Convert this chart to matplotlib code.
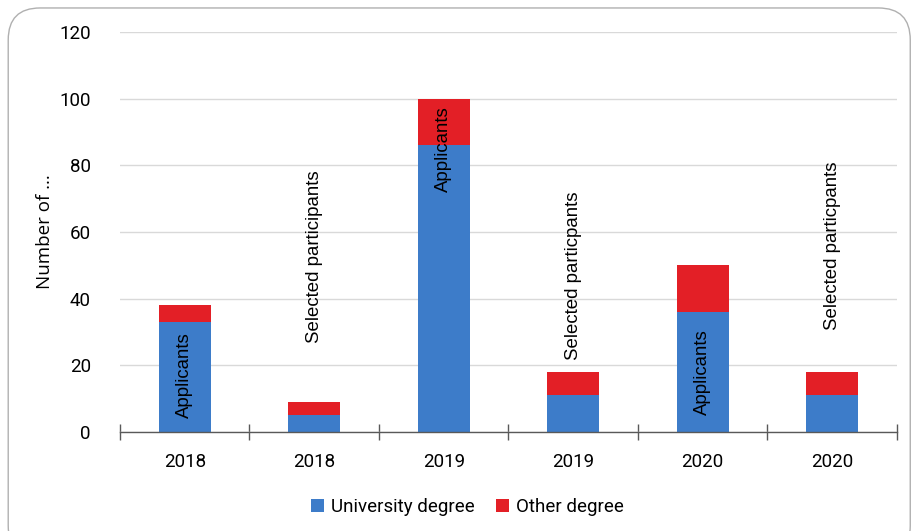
import numpy as np
import matplotlib
matplotlib.use("Agg")
import matplotlib.pyplot as plt
from matplotlib.patches import FancyBboxPatch

years = ["2018", "2018", "2019", "2019", "2020", "2020"]
university = [33, 5, 86, 11, 36, 11]
other = [5, 4, 14, 7, 14, 7]
bar_labels = ["Applicants", "Selected participants", "Applicants",
              "Selected particpants", "Applicants", "Selected particpants"]
label_y = [17, 52.5, 85, 47, 18, 56]

BLUE = "#3d7cc9"
RED = "#e31f26"

fig = plt.figure(figsize=(9.13, 5.31), dpi=100)
frame = FancyBboxPatch((0.009, -0.05), 0.988, 1.035,
                       boxstyle="round,pad=0,rounding_size=0.035",
                       transform=fig.transFigure, fc="white",
                       ec="#b0b0b0", lw=1.0, mutation_aspect=913 / 531, zorder=-1)
fig.patches.append(frame)
ax = fig.add_axes([0.1314, 0.1864, 0.851, 0.7533])
ax.set_facecolor("none")
ax.set_zorder(2)

x = np.arange(len(years))
ax.bar(x, university, 0.4, color=BLUE, label="University degree", zorder=3)
ax.bar(x, other, 0.4, bottom=university, color=RED, label="Other degree", zorder=3)

for xi, lab, yy in zip(x, bar_labels, label_y):
    ax.text(xi, yy, lab, rotation=90, ha="center", va="center",
            fontsize=13.4, family="Liberation Sans", color="black", zorder=4)

ax.set_xlim(-0.5, len(years) - 0.5)
ax.set_ylim(0, 120)
ax.set_yticks(range(0, 121, 20))
ax.yaxis.grid(True, color="#d9d9d9", lw=1.0, zorder=0)
ax.tick_params(axis="y", length=0, pad=21, labelsize=13.5)
ax.set_xticks(x)
ax.set_xticklabels(years)
ax.set_xticks(np.arange(-0.5, len(years), 1), minor=True)
ax.tick_params(axis="x", which="major", length=0, pad=15, labelsize=13.5)
ax.tick_params(axis="x", which="minor", length=12, direction="inout", color="#595959", width=1.0)
for t in ax.get_xticklabels() + ax.get_yticklabels():
    t.set_family("Roboto")
for s in ["top", "right", "left"]:
    ax.spines[s].set_visible(False)
ax.spines["bottom"].set_color("#595959")
ax.spines["bottom"].set_linewidth(1.0)
ax.spines["bottom"].set_zorder(5)

ax.set_ylabel("Number of ...", fontsize=13.5, family="Open Sans", labelpad=4)

leg = fig.legend(*ax.get_legend_handles_labels(), loc="center",
                 bbox_to_anchor=(0.512, 0.045), ncol=2, frameon=False,
                 prop={"family": "Roboto", "size": 13.5}, handlelength=0.7, handleheight=0.7,
                 handletextpad=0.4, columnspacing=1.1)

fig.savefig("out.png", dpi=100)
